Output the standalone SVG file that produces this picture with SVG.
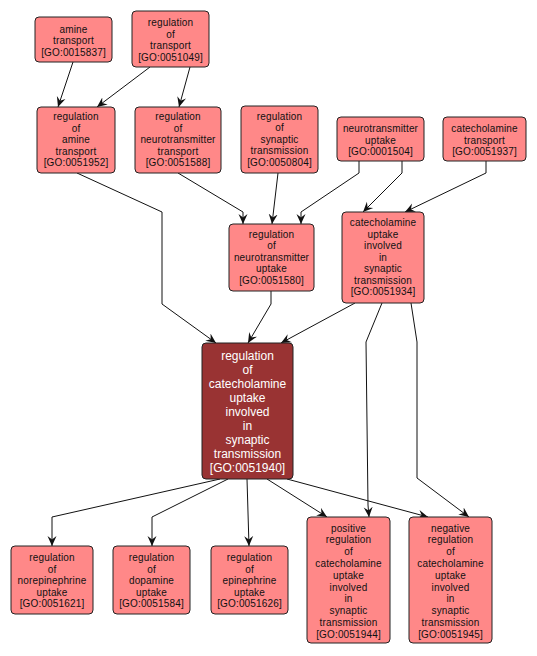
<svg xmlns="http://www.w3.org/2000/svg" width="537" height="656" viewBox="0 0 537 656">
<style>
.n rect{fill:#ff8888;stroke:#222;stroke-width:1}
.n text{font-family:"Liberation Sans",Arial,sans-serif;font-size:10px;fill:#111;text-anchor:middle;letter-spacing:0.15px}
.m rect{fill:#993333;stroke:#222;stroke-width:1}
.m text{font-family:"Liberation Sans",Arial,sans-serif;font-size:12px;fill:#fff;text-anchor:middle}
.e path{fill:none;stroke:#111;stroke-width:1;marker-end:url(#a)}
</style>
<defs>
<marker id="a" markerUnits="userSpaceOnUse" markerWidth="10" markerHeight="10" viewBox="0 0 10 10" refX="10" refY="5" orient="auto">
<path d="M0,0.5 L10,5 L0,9.5 L3.5,5 z" fill="#111"/>
</marker>
</defs>
<rect width="537" height="656" fill="#fff"/>
<g id="edges" class="e">
<path d="M73,62 L58,107"/>
<path d="M150,67 L97,107"/>
<path d="M190,67 L179,107"/>
<path d="M77,173 L162,212 L162,304 L216,343"/>
<path d="M178,173 L243,212 L243,224"/>
<path d="M278,173 L272,224"/>
<path d="M359,161 L359,173 L301,212 L301,224"/>
<path d="M402,161 L402,173 L363,212"/>
<path d="M486,161 L486,173 L405,212"/>
<path d="M271,291 L271,304 L248,343"/>
<path d="M355,303 L281,343"/>
<path d="M382,303 L366,342 L368,505 L369,517"/>
<path d="M411,303 L417,342 L417,478 L469,517"/>
<path d="M220,479 L52,517 L52,546"/>
<path d="M228,479 L152,517 L152,546"/>
<path d="M247,479 L249,546"/>
<path d="M267,479 L327,517"/>
<path d="M287,479 L428,517"/>
</g>
<g id="GO0015837" class="n"><rect x="35" y="17" width="77" height="45" rx="4"/>
<text x="73.5" y="32.5">amine</text><text x="73.5" y="44">transport</text><text x="73.5" y="55.5">[GO:0015837]</text></g>
<g id="GO0051049" class="n"><rect x="132" y="11" width="77" height="56" rx="4"/>
<text x="170.5" y="26">regulation</text><text x="170.5" y="37.5">of</text><text x="170.5" y="49">transport</text><text x="170.5" y="60.5">[GO:0051049]</text></g>
<g id="GO0051952" class="n"><rect x="37" y="107" width="78" height="66" rx="4"/>
<text x="76" y="120">regulation</text><text x="76" y="131.5">of</text><text x="76" y="143">amine</text><text x="76" y="154.5">transport</text><text x="76" y="166">[GO:0051952]</text></g>
<g id="GO0051588" class="n"><rect x="135" y="107" width="86" height="66" rx="4"/>
<text x="178" y="120">regulation</text><text x="178" y="131.5">of</text><text x="178" y="143">neurotransmitter</text><text x="178" y="154.5">transport</text><text x="178" y="166">[GO:0051588]</text></g>
<g id="GO0050804" class="n"><rect x="241" y="106" width="77" height="67" rx="4"/>
<text x="279.5" y="119.5">regulation</text><text x="279.5" y="131">of</text><text x="279.5" y="142.5">synaptic</text><text x="279.5" y="154">transmission</text><text x="279.5" y="165.5">[GO:0050804]</text></g>
<g id="GO0001504" class="n"><rect x="337" y="117" width="87" height="44" rx="4"/>
<text x="380.5" y="132">neurotransmitter</text><text x="380.5" y="143.5">uptake</text><text x="380.5" y="155">[GO:0001504]</text></g>
<g id="GO0051937" class="n"><rect x="443" y="117" width="83" height="44" rx="4"/>
<text x="484.5" y="132">catecholamine</text><text x="484.5" y="143.5">transport</text><text x="484.5" y="155">[GO:0051937]</text></g>
<g id="GO0051580" class="n"><rect x="229" y="224" width="85" height="67" rx="4"/>
<text x="271.5" y="237.5">regulation</text><text x="271.5" y="249">of</text><text x="271.5" y="260.5">neurotransmitter</text><text x="271.5" y="272">uptake</text><text x="271.5" y="283.5">[GO:0051580]</text></g>
<g id="GO0051934" class="n"><rect x="342" y="212" width="82" height="91" rx="4"/>
<text x="383" y="226">catecholamine</text><text x="383" y="237.5">uptake</text><text x="383" y="249">involved</text><text x="383" y="260.5">in</text><text x="383" y="272">synaptic</text><text x="383" y="283.5">transmission</text><text x="383" y="295">[GO:0051934]</text></g>
<g id="GO0051940" class="m"><rect x="202" y="343" width="91" height="136" rx="4"/>
<text x="247.5" y="359.5">regulation</text><text x="247.5" y="373.5">of</text><text x="247.5" y="387.5">catecholamine</text><text x="247.5" y="401.5">uptake</text><text x="247.5" y="415.5">involved</text><text x="247.5" y="429.5">in</text><text x="247.5" y="443.5">synaptic</text><text x="247.5" y="457.5">transmission</text><text x="247.5" y="471.5">[GO:0051940]</text></g>
<g id="GO0051621" class="n"><rect x="11" y="546" width="82" height="68" rx="4"/>
<text x="52" y="561">regulation</text><text x="52" y="572.5">of</text><text x="52" y="584">norepinephrine</text><text x="52" y="595.5">uptake</text><text x="52" y="607">[GO:0051621]</text></g>
<g id="GO0051584" class="n"><rect x="113" y="546" width="77" height="68" rx="4"/>
<text x="151.5" y="561">regulation</text><text x="151.5" y="572.5">of</text><text x="151.5" y="584">dopamine</text><text x="151.5" y="595.5">uptake</text><text x="151.5" y="607">[GO:0051584]</text></g>
<g id="GO0051626" class="n"><rect x="211" y="546" width="77" height="68" rx="4"/>
<text x="249.5" y="561">regulation</text><text x="249.5" y="572.5">of</text><text x="249.5" y="584">epinephrine</text><text x="249.5" y="595.5">uptake</text><text x="249.5" y="607">[GO:0051626]</text></g>
<g id="GO0051944" class="n"><rect x="307" y="517" width="83" height="126" rx="4"/>
<text x="348.5" y="531.5">positive</text><text x="348.5" y="543.3">regulation</text><text x="348.5" y="555.1">of</text><text x="348.5" y="566.9">catecholamine</text><text x="348.5" y="578.7">uptake</text><text x="348.5" y="590.5">involved</text><text x="348.5" y="602.3">in</text><text x="348.5" y="614.1">synaptic</text><text x="348.5" y="625.9">transmission</text><text x="348.5" y="637.7">[GO:0051944]</text></g>
<g id="GO0051945" class="n"><rect x="409" y="517" width="83" height="126" rx="4"/>
<text x="450.5" y="531.5">negative</text><text x="450.5" y="543.3">regulation</text><text x="450.5" y="555.1">of</text><text x="450.5" y="566.9">catecholamine</text><text x="450.5" y="578.7">uptake</text><text x="450.5" y="590.5">involved</text><text x="450.5" y="602.3">in</text><text x="450.5" y="614.1">synaptic</text><text x="450.5" y="625.9">transmission</text><text x="450.5" y="637.7">[GO:0051945]</text></g>
</svg>
